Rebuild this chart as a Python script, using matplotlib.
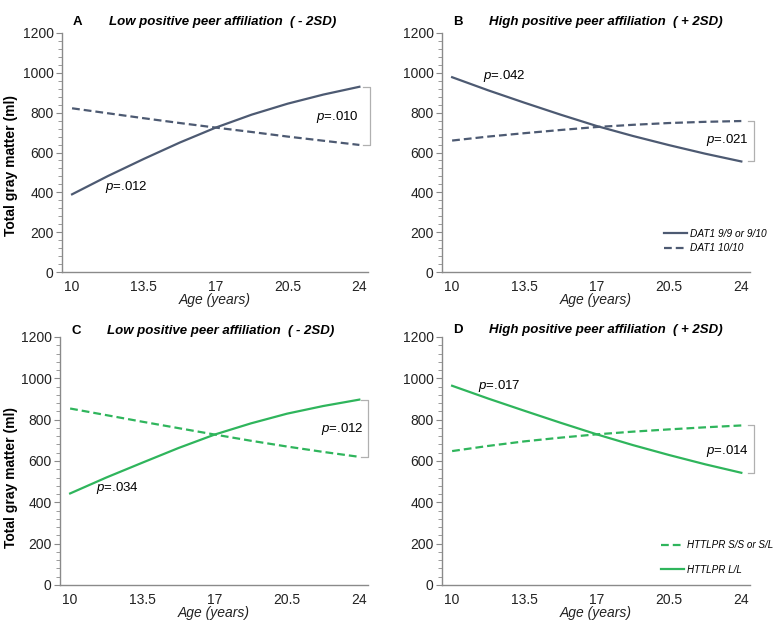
import matplotlib.pyplot as plt
from matplotlib.ticker import MultipleLocator

plt.rcParams['font.family'] = ['Liberation Sans', 'DejaVu Sans']
plt.rcParams['mathtext.fontset'] = 'custom'
plt.rcParams['mathtext.it'] = 'Liberation Sans:italic'
plt.rcParams['mathtext.rm'] = 'Liberation Sans'

# Age (years) on the x axis
age_ticks = [10, 13.5, 17, 20.5, 24]
age_labels = ['10', '13.5', '17', '20.5', '24']
ages = [10, 11.75, 13.5, 15.25, 17, 18.75, 20.5, 22.25, 24]

# Panel A / B: DAT1 genotype, total gray matter (ml)
a_dat_99 = [390, 482, 568, 650, 725, 790, 845, 891, 930]
a_dat_1010 = [822, 797, 772, 748, 725, 703, 680, 659, 638]
b_dat_99 = [978, 912, 850, 790, 733, 683, 637, 594, 555]
b_dat_1010 = [660, 680, 697, 713, 728, 739, 748, 754, 758]

# Panel C / D: 5-HTTLPR genotype, total gray matter (ml)
c_htt_ll = [443, 520, 592, 663, 728, 782, 829, 866, 897]
c_htt_ss = [854, 822, 790, 759, 728, 698, 670, 644, 620]
d_htt_ll = [964, 902, 843, 785, 729, 677, 629, 584, 543]
d_htt_ss = [648, 673, 695, 713, 729, 742, 753, 763, 772]

dat_col = '#4d5a72'
htt_col = '#2fb55c'
grey = '#8a8a8a'
dash = (0, (3.5, 1.8))

fig = plt.figure(figsize=(7.82, 6.29), dpi=100)
axA = fig.add_axes([62/782, 1-272/629, 306/782, 239/629])
axB = fig.add_axes([442/782, 1-272/629, 308/782, 239/629])
axC = fig.add_axes([60/782, 1-585/629, 308/782, 248/629])
axD = fig.add_axes([442/782, 1-585/629, 308/782, 248/629])


def style(ax, letter, title, ylab_xy, ty):
    ax.set_xlim(9.51, 24.42)
    ax.set_ylim(0, 1200)
    ax.set_xticks(age_ticks)
    ax.set_xticklabels(age_labels)
    ax.yaxis.set_major_locator(MultipleLocator(200))
    ax.yaxis.set_minor_locator(MultipleLocator(40))
    for s in ['top', 'right']:
        ax.spines[s].set_visible(False)
    for s in ['left', 'bottom']:
        ax.spines[s].set_color(grey)
        ax.spines[s].set_linewidth(1)
    ax.tick_params(axis='x', length=0, pad=6, labelsize=10, labelcolor='#222222')
    ax.tick_params(axis='y', which='major', length=4, color=grey, labelsize=10,
                   labelcolor='#222222', pad=2)
    ax.tick_params(axis='y', which='minor', length=3, color=grey)
    ax.set_xlabel('Age (years)', fontsize=10, style='italic', labelpad=-1, color='#222222')
    if ylab_xy is not None:
        ax.set_ylabel('Total gray matter (ml)', fontsize=10, fontweight='bold')
        ax.yaxis.set_label_coords(*ylab_xy)
    ax.text(0.036, ty, letter, transform=ax.transAxes, fontsize=9.5,
            fontweight='bold', va='center')
    ax.text(0.153, ty, title, transform=ax.transAxes, fontsize=9.5,
            fontweight='bold', style='italic', va='center')


def bracket(ax, x, y1, y2):
    ax.plot([x - 0.3, x, x, x - 0.3], [y1, y1, y2, y2], color='#b0b0b0',
            lw=0.9, clip_on=False)


# A
axA.plot(ages, a_dat_99, color=dat_col, lw=1.6, label='DAT1 9/9 or 9/10')
axA.plot(ages, a_dat_1010, color=dat_col, lw=1.6, ls=dash, label='DAT1 10/10')
style(axA, 'A', 'Low positive peer affiliation  ( - 2SD)', (-0.144, 0.446), 1.046)
axA.text(11.6, 427, r'$\it{p}$=.012', fontsize=9.5, va='center')
axA.text(23.95, 778, r'$\it{p}$=.010', fontsize=9.5, va='center', ha='right')
bracket(axA, 24.5, a_dat_99[-1], a_dat_1010[-1])

# B
axB.plot(ages, b_dat_99, color=dat_col, lw=1.6, label='DAT1 9/9 or 9/10')
axB.plot(ages, b_dat_1010, color=dat_col, lw=1.6, ls=dash, label='DAT1 10/10')
style(axB, 'B', 'High positive peer affiliation  ( + 2SD)', None, 1.046)
axB.text(11.5, 984, r'$\it{p}$=.042', fontsize=9.5, va='center')
axB.text(24.35, 663, r'$\it{p}$=.021', fontsize=9.5, va='center', ha='right')
bracket(axB, 24.63, b_dat_1010[-1], b_dat_99[-1])
axB.legend(loc='lower right', bbox_to_anchor=(1.083, 0.04), frameon=False,
           prop={'size': 7.3, 'style': 'italic'}, handlelength=2.2,
           handletextpad=0.3, labelspacing=0.46)

# C
axC.plot(ages, c_htt_ll, color=htt_col, lw=1.6)
axC.plot(ages, c_htt_ss, color=htt_col, lw=1.6, ls=dash)
style(axC, 'C', 'Low positive peer affiliation  ( - 2SD)', (-0.136, 0.435), 1.024)
axC.text(11.26, 469, r'$\it{p}$=.034', fontsize=9.5, va='center')
axC.text(24.2, 755, r'$\it{p}$=.012', fontsize=9.5, va='center', ha='right')
bracket(axC, 24.4, c_htt_ll[-1], c_htt_ss[-1])

# D
axD.plot(ages, d_htt_ss, color=htt_col, lw=1.6, ls=dash, label='HTTLPR S/S or S/L')
axD.plot(ages, d_htt_ll, color=htt_col, lw=1.6, label='HTTLPR L/L')
style(axD, 'D', 'High positive peer affiliation  ( + 2SD)', None, 1.03)
axD.text(11.26, 963, r'$\it{p}$=.017', fontsize=9.5, va='center')
axD.text(24.35, 648, r'$\it{p}$=.014', fontsize=9.5, va='center', ha='right')
bracket(axD, 24.63, d_htt_ss[-1], d_htt_ll[-1])
axD.legend(loc='lower right', bbox_to_anchor=(1.105, 0.005), frameon=False,
           prop={'size': 7.1, 'style': 'italic'}, handlelength=2.4,
           handletextpad=0.3, labelspacing=1.5)

fig.savefig('out.png', dpi=100)
